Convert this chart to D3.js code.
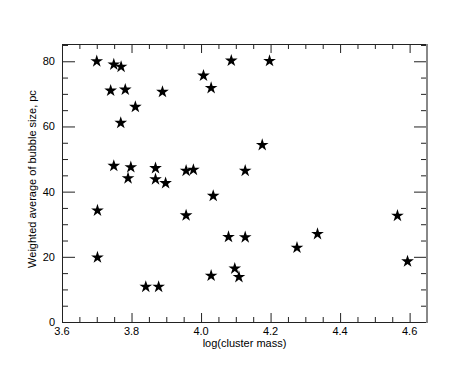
<!DOCTYPE html>
<html>
<head>
<meta charset="utf-8">
<script src="https://cdn.jsdelivr.net/npm/d3@7"></script>
<style>
body { margin: 0; background: #fff; }
text { font-family: "Liberation Sans", Arial, sans-serif; }
</style>
</head>
<body>
<script>
var width = 463, height = 371;
var margin = {left: 62, right: 36, top: 44, bottom: 49};

// log(cluster mass)
var logMass = [3.700, 3.749, 3.770, 3.740, 3.782, 3.811, 3.769, 3.889, 4.007, 4.029, 4.087, 4.197,
  3.749, 3.798, 3.790, 3.869, 3.869, 3.898, 3.957, 3.978, 4.176, 4.127, 4.035,
  3.702, 3.957, 3.702, 4.079, 4.127, 4.097, 4.109, 4.029, 3.841, 3.878,
  4.276, 4.335, 4.565, 4.594];
// weighted average of bubble size, pc
var bubbleSize = [80.0, 79.0, 78.3, 71.0, 71.3, 66.0, 61.1, 70.6, 75.6, 71.8, 80.2, 80.1,
  47.9, 47.5, 44.1, 47.2, 43.8, 42.6, 46.4, 46.7, 54.3, 46.4, 38.7,
  34.2, 32.7, 19.8, 26.1, 26.0, 16.4, 13.8, 14.2, 10.8, 10.8,
  22.8, 27.0, 32.6, 18.6];

var xMajor = [3.6, 3.8, 4.0, 4.2, 4.4, 4.6];
var xMinor = [3.65, 3.7, 3.75, 3.85, 3.9, 3.95, 4.05, 4.1, 4.15, 4.25, 4.3, 4.35, 4.45, 4.5, 4.55];
var yMajor = [0, 20, 40, 60, 80];
var yMinor = [5, 10, 15, 25, 30, 35, 45, 50, 55, 65, 70, 75, 85];

var points = logMass.map(function(d, i) { return [d, bubbleSize[i]]; });

var x = d3.scaleLinear().domain([3.6, 4.65]).range([margin.left, width - margin.right]);
var y = d3.scaleLinear().domain([0, 85.3]).range([height - margin.bottom, margin.top]);

var svg = d3.select("body").append("svg")
  .attr("width", width)
  .attr("height", height);

function tickAxis(axis, vals, size, tx, ty) {
  var g = svg.append("g")
    .attr("transform", "translate(" + tx + "," + ty + ")")
    .call(axis.tickValues(vals).tickSize(size).tickFormat(""));
  g.select(".domain").remove();
  g.selectAll("line").attr("stroke", "#222");
  return g;
}

var x0 = margin.left, x1 = width - margin.right;
var y0 = height - margin.bottom, y1 = margin.top;

// inward ticks on all four sides
tickAxis(d3.axisBottom(x), xMajor, -9, 0, y0);
tickAxis(d3.axisBottom(x), xMinor, -5, 0, y0);
tickAxis(d3.axisTop(x), xMajor, -9, 0, y1);
tickAxis(d3.axisTop(x), xMinor, -5, 0, y1);
tickAxis(d3.axisLeft(y), yMajor, -13, x0, 0);
tickAxis(d3.axisLeft(y), yMinor, -6, x0, 0);
tickAxis(d3.axisRight(y), yMajor, -13, x1, 0);
tickAxis(d3.axisRight(y), yMinor, -6, x1, 0);

// frame
svg.append("line").attr("x1", x0).attr("x2", x1).attr("y1", y1 + 0.5).attr("y2", y1 + 0.5).attr("stroke", "#222");
svg.append("line").attr("x1", x0).attr("x2", x1).attr("y1", y0 + 0.5).attr("y2", y0 + 0.5).attr("stroke", "#222");
svg.append("line").attr("x1", x0 + 0.5).attr("x2", x0 + 0.5).attr("y1", y1).attr("y2", y0 + 1).attr("stroke", "#222");
svg.append("line").attr("x1", x1).attr("x2", x1).attr("y1", y1).attr("y2", y0 + 1).attr("stroke", "#888").attr("stroke-width", 2);

// tick labels
svg.selectAll(".xlab")
  .data(xMajor).enter()
  .append("text")
  .attr("x", function(d) { return x(d); })
  .attr("y", y0 + 13)
  .attr("text-anchor", "middle")
  .attr("font-size", 11)
  .text(function(d) { return d3.format(".1f")(d); });

svg.selectAll(".ylab")
  .data(yMajor).enter()
  .append("text")
  .attr("x", x0 - 7)
  .attr("y", function(d) { return y(d) + 4; })
  .attr("text-anchor", "end")
  .attr("font-size", 11)
  .text(function(d) { return d; });

svg.append("text")
  .attr("x", (x0 + x1) / 2 + 0)
  .attr("y", y0 + 25)
  .attr("text-anchor", "middle")
  .attr("font-size", 11)
  .text("log(cluster mass)");

svg.append("text")
  .attr("transform", "translate(36," + ((y0 + y1) / 2 - 4) + ")rotate(-90)")
  .attr("text-anchor", "middle")
  .attr("font-size", 11)
  .text("Weighted average of bubble size, pc");

// stars
svg.selectAll(".star")
  .data(points).enter()
  .append("path")
  .attr("d", d3.symbol().type(d3.symbolStar).size(50))
  .attr("transform", function(d) { return "translate(" + x(d[0]) + "," + y(d[1]) + ")"; })
  .attr("fill", "#000");
</script>
</body>
</html>
